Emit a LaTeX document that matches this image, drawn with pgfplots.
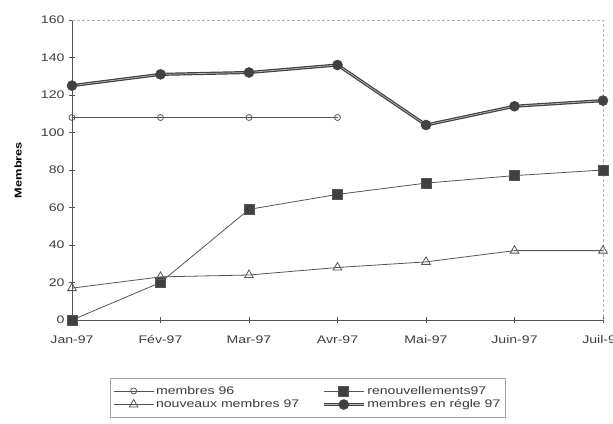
\documentclass[border=0pt]{standalone}
\usepackage{pgfplots}
\pgfplotsset{compat=1.18}
\usepackage{fontspec}
\setmainfont[FakeStretch=1.28]{Liberation Sans}
\definecolor{ln}{RGB}{85,85,85}
\definecolor{dk}{RGB}{65,65,65}
\definecolor{tx}{RGB}{60,60,60}
\begin{document}
\begin{tikzpicture}[x=1pt,y=1pt]
\useasboundingbox (0,0) rectangle (613,423);
\begin{axis}[
  at={(72pt,103pt)}, anchor=south west,
  scale only axis, width=531pt, height=300pt,
  xmin=0, xmax=6, ymin=0, ymax=160,
  xtick={0,...,6},
  xticklabels={Jan-97,Fév-97,Mar-97,Avr-97,Mai-97,Juin-97,Juil-97},
  ytick={0,20,...,160},
  axis x line*=bottom, axis y line*=left,
  axis line style={ln, line width=0.8pt, -},
  tick style={ln, line width=0.6pt},
  major tick length=6pt,
  tick align=center,
  ticklabel style={font=\fontsize{11}{13}\selectfont, text=tx},
  /pgf/number format/assume math mode=true,
  xticklabel style={yshift=-9pt},
  yticklabel style={xshift=-1pt},
  ylabel={\textbf{Membres}}, ylabel style={font=\fontsize{10.5}{12}\selectfont, text=tx},
  every axis y label/.style={at={(rel axis cs:0,0.5)}, rotate=90, anchor=center, yshift=54pt},
  clip=false,
  legend style={at={(38pt,-58pt)}, anchor=north west, draw=gray!70, line width=0.5pt,
    font=\fontsize{11}{13}\selectfont, text=tx, legend columns=2,
    /tikz/every even column/.append style={column sep=21pt},
    inner xsep=3pt, inner ysep=6pt, row sep=0pt},
  legend cell align=left,
  legend image code/.code={\draw[mark repeat=2,mark phase=2,#1] plot coordinates {(0pt,0pt) (20pt,0pt) (40pt,0pt)};},
]
\draw[densely dashed, gray!60, line width=0.5pt] (rel axis cs:0,1) -- (rel axis cs:1,1) -- (rel axis cs:1,0);
\addplot[ln, line width=0.8pt, mark=o, mark size=3pt, mark options={solid, line width=0.8pt, fill=white}]
 coordinates {(0,108) (1,108) (2,108) (3,108)};
\addlegendentry{membres 96}
\addplot[ln, line width=0.8pt, mark=square*, mark size=5pt, mark options={fill=dk, draw=ln}]
 coordinates {(0,0) (1,20) (2,59) (3,67) (4,73) (5,77) (6,80)};
\addlegendentry{renouvellements97}
\addplot[ln, line width=0.8pt, mark=triangle, mark size=5pt, mark options={fill=white, line width=0.8pt}]
 coordinates {(0,17) (1,23) (2,24) (3,28) (4,31) (5,37) (6,37)};
\addlegendentry{nouveaux membres 97}
\addplot[dk, line width=1.2pt, double=gray!55, double distance=0.7pt, mark=*, mark size=5pt, mark options={fill=dk, draw=dk, line width=0.5pt, double=none}]
 coordinates {(0,125) (1,131) (2,132) (3,136) (4,104) (5,114) (6,117)};
\addlegendentry{membres en régle 97}
\end{axis}
\end{tikzpicture}
\end{document}
